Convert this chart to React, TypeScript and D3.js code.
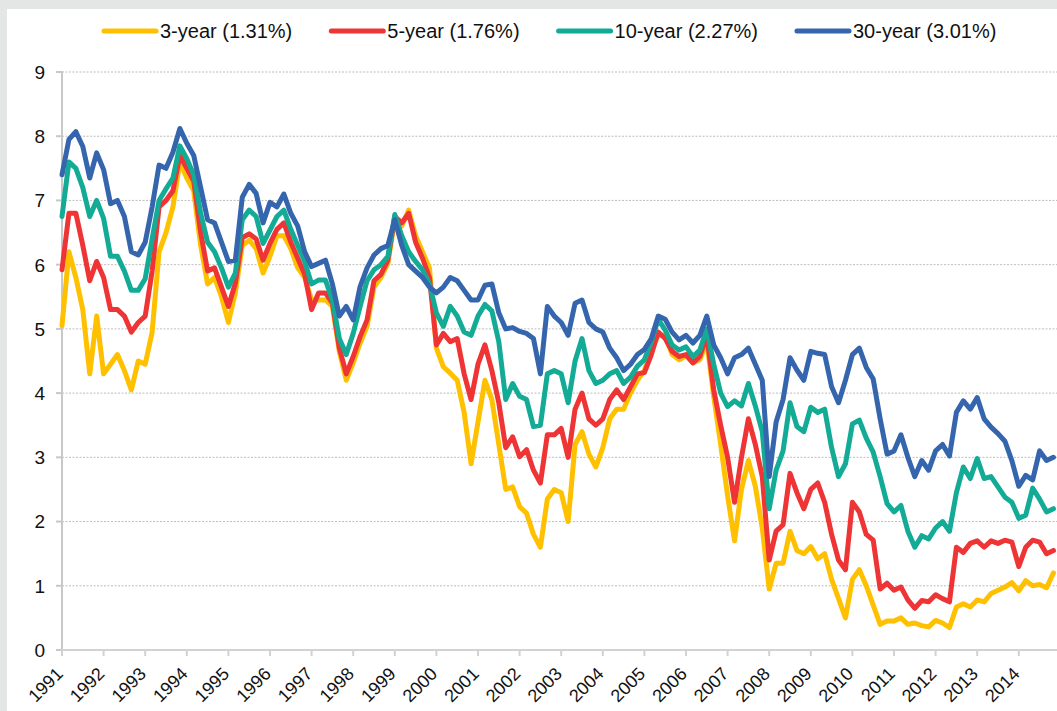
import React, { useEffect, useRef } from 'react';
import * as d3 from 'd3';

// two-month observation grid, Jan 1991 .. Nov 2014 (decimal years)
const startYear = 1991;
const stepsPerYear = 6;
const yearTicks = d3.range(1991, 2015);
const yTicks = [0, 1, 2, 3, 4, 5, 6, 7, 8, 9];

const seriesNames = ['3-year (1.31%)', '5-year (1.76%)', '10-year (2.27%)', '30-year (3.01%)'];
const seriesColors = ['#ffc000', '#ee3435', '#13aa96', '#3465ad'];

// yields, %
const y3 = [
	5.05, 6.2, 5.8, 5.3, 4.3, 5.2, 4.3, 4.45, 4.6, 4.35, 4.05, 4.5,
	4.45, 4.95, 6.2, 6.5, 6.9, 7.6, 7.35, 7.15, 6.3, 5.7, 5.8, 5.5,
	5.1, 5.56, 6.3, 6.38, 6.25, 5.87, 6.13, 6.45, 6.45, 6.25, 5.95, 5.8,
	5.45, 5.45, 5.45, 5.35, 4.65, 4.2, 4.47, 4.78, 5.04, 5.65, 5.8, 6.02,
	6.7, 6.6, 6.85, 6.45, 6.2, 5.95, 4.7, 4.41, 4.31, 4.2, 3.7, 2.9,
	3.55, 4.2, 3.9, 3.2, 2.5, 2.54, 2.23, 2.13, 1.8, 1.6, 2.35, 2.5,
	2.45, 2.0, 3.2, 3.4, 3.05, 2.85, 3.15, 3.6, 3.75, 3.75, 4.0, 4.2,
	4.35, 4.68, 4.9, 4.9, 4.6, 4.52, 4.58, 4.47, 4.52, 4.8, 3.95, 3.2,
	2.4, 1.7, 2.5, 2.95, 2.55, 1.9, 0.95, 1.35, 1.35, 1.85, 1.55, 1.5,
	1.61, 1.42, 1.5, 1.1, 0.8, 0.5, 1.1, 1.25, 1.0, 0.7, 0.4, 0.45,
	0.45, 0.5, 0.4, 0.42, 0.38, 0.36, 0.46, 0.42, 0.35, 0.67, 0.72, 0.67,
	0.78, 0.75, 0.88, 0.93, 0.98, 1.05, 0.92, 1.08, 1.0, 1.02, 0.97, 1.2
];
const y5 = [
	5.92, 6.8, 6.8, 6.3, 5.75, 6.05, 5.8, 5.3, 5.3, 5.2, 4.95, 5.1,
	5.2, 5.9, 6.9, 7.0, 7.15, 7.7, 7.5, 7.3, 6.5, 5.9, 5.95, 5.65,
	5.35, 5.71, 6.42, 6.48, 6.4, 6.07, 6.33, 6.55, 6.65, 6.35, 6.1, 5.85,
	5.3, 5.56, 5.56, 5.4, 4.7, 4.3, 4.57, 4.88, 5.14, 5.75, 5.85, 6.07,
	6.75, 6.65, 6.8, 6.35, 6.1, 5.8, 4.75, 4.93, 4.8, 4.85, 4.3, 3.9,
	4.45, 4.75, 4.35, 3.85, 3.15, 3.32, 3.01, 3.12, 2.8, 2.6, 3.35, 3.35,
	3.45, 3.0, 3.75, 4.0, 3.6, 3.5, 3.6, 3.9, 4.05, 3.9, 4.1, 4.3,
	4.32, 4.6, 4.95, 4.85, 4.65, 4.57, 4.6, 4.47, 4.57, 4.9, 4.05, 3.5,
	3.0, 2.3, 3.0, 3.6, 3.2, 2.7, 1.4, 1.85, 1.95, 2.75, 2.45, 2.2,
	2.5, 2.6, 2.3, 1.8, 1.4, 1.25, 2.3, 2.15, 1.8, 1.71, 0.95, 1.04,
	0.93, 0.98, 0.78, 0.65, 0.77, 0.75, 0.86, 0.8, 0.75, 1.6, 1.52, 1.66,
	1.7, 1.6, 1.7, 1.66, 1.71, 1.68, 1.3, 1.6, 1.71, 1.68, 1.5, 1.55
];
const y10 = [
	6.75, 7.6, 7.5, 7.2, 6.75, 7.0, 6.72, 6.13, 6.13, 5.9, 5.6, 5.6,
	5.78, 6.4, 7.0, 7.18, 7.35, 7.85, 7.65, 7.4, 6.8, 6.35, 6.2, 5.95,
	5.65, 5.87, 6.7, 6.85, 6.75, 6.33, 6.54, 6.75, 6.85, 6.55, 6.3, 6.05,
	5.7, 5.76, 5.76, 5.45, 4.85, 4.6, 4.93, 5.35, 5.75, 5.92, 6.0, 6.13,
	6.78, 6.45, 6.2, 6.05, 5.92, 5.7, 5.25, 5.04, 5.35, 5.2, 4.95, 4.9,
	5.2, 5.38, 5.28, 4.8, 3.9, 4.15, 3.95, 3.9, 3.48, 3.5, 4.3, 4.35,
	4.3, 3.85, 4.5, 4.85, 4.35, 4.15, 4.2, 4.3, 4.35, 4.15, 4.25, 4.42,
	4.52, 4.8, 5.15, 4.98, 4.75, 4.67, 4.72, 4.57, 4.67, 5.0, 4.45, 4.0,
	3.79, 3.88, 3.8, 4.15, 3.8, 3.4, 2.2, 2.8, 3.1, 3.85, 3.48, 3.4,
	3.78, 3.7, 3.75, 3.15, 2.7, 2.9, 3.52, 3.58, 3.3, 3.08, 2.7, 2.28,
	2.15, 2.25, 1.85, 1.6, 1.78, 1.73, 1.9, 2.0, 1.85, 2.45, 2.85, 2.67,
	2.98, 2.67, 2.7, 2.54, 2.38, 2.3, 2.05, 2.1, 2.52, 2.35, 2.15, 2.2
];
const y30 = [
	7.4, 7.95, 8.07, 7.84, 7.35, 7.74, 7.48, 6.95, 7.0, 6.75, 6.2, 6.15,
	6.35, 6.9, 7.55, 7.5, 7.75, 8.12, 7.89, 7.7, 7.2, 6.7, 6.65, 6.35,
	6.05, 6.07, 7.05, 7.25, 7.11, 6.65, 6.97, 6.9, 7.1, 6.8, 6.6, 6.2,
	5.97, 6.02, 6.07, 5.7, 5.2, 5.35, 5.14, 5.66, 5.95, 6.15, 6.25, 6.3,
	6.7, 6.3, 6.0, 5.9, 5.8, 5.65, 5.56, 5.65, 5.8, 5.75, 5.6, 5.45,
	5.45, 5.68, 5.7, 5.25, 5.0, 5.02, 4.96, 4.93, 4.85, 4.3, 5.35, 5.2,
	5.1, 4.9, 5.4, 5.45, 5.1, 5.0, 4.95, 4.7, 4.55, 4.35, 4.45, 4.6,
	4.68, 4.85, 5.2, 5.15, 4.95, 4.83, 4.9, 4.78, 4.9, 5.2, 4.75, 4.55,
	4.3, 4.55, 4.6, 4.7, 4.45, 4.2, 2.7, 3.55, 3.9, 4.55, 4.36, 4.2,
	4.65, 4.62, 4.6, 4.1, 3.85, 4.2, 4.6, 4.7, 4.4, 4.22, 3.6, 3.05,
	3.1, 3.35, 3.0, 2.7, 2.95, 2.8, 3.1, 3.2, 3.02, 3.7, 3.88, 3.75,
	3.93, 3.6, 3.47, 3.37, 3.25, 2.95, 2.55, 2.72, 2.65, 3.1, 2.95, 3.0
];
const seriesValues = [y3, y5, y10, y30];

const width = 1057;
const height = 711;
const margin = { left: 62, top: 72, bottom: 650 };

function App() {
	const ref = useRef(null);

	useEffect(() => {
		const svg = d3.select(ref.current);
		svg.selectAll('*').remove();

		const x = d3.scaleLinear().domain([1991, 2015]).range([margin.left, margin.left + 24 * 41.6]);
		const y = d3.scaleLinear().domain([0, 9]).range([margin.bottom, margin.top]);

		// page frame
		svg.append('rect').attr('width', width).attr('height', height).attr('fill', '#e4e5e5');
		svg.append('rect').attr('x', 7).attr('y', 9).attr('width', width - 7).attr('height', height - 9).attr('fill', '#fff');

		// gridlines
		svg
			.append('g')
			.selectAll('line')
			.data(yTicks.filter(d => d > 0))
			.join('line')
			.attr('x1', margin.left)
			.attr('x2', width)
			.attr('y1', d => y(d))
			.attr('y2', d => y(d))
			.attr('stroke', '#bdbdbd')
			.attr('stroke-width', 1)
			.attr('stroke-dasharray', '2,1.5');

		// y axis
		const yAxis = svg.append('g').attr('transform', `translate(${margin.left},0)`);
		yAxis
			.append('line')
			.attr('y1', margin.top - 1)
			.attr('y2', margin.bottom)
			.attr('stroke', '#c8c8c8')
			.attr('stroke-width', 2);
		yAxis
			.selectAll('.tk')
			.data(yTicks)
			.join('line')
			.attr('class', 'tk')
			.attr('x1', -6)
			.attr('x2', 0)
			.attr('y1', d => y(d))
			.attr('y2', d => y(d))
			.attr('stroke', '#c8c8c8')
			.attr('stroke-width', 2);
		yAxis
			.selectAll('text')
			.data(yTicks)
			.join('text')
			.attr('x', -17)
			.attr('y', d => y(d))
			.attr('dy', '0.36em')
			.attr('text-anchor', 'end')
			.attr('font-family', 'Arial, "Liberation Sans", sans-serif')
			.attr('font-size', 19)
			.attr('fill', '#111')
			.text(d => d);

		// x axis
		const xAxis = svg.append('g').attr('transform', `translate(0,${margin.bottom})`);
		xAxis
			.append('line')
			.attr('x1', margin.left - 1)
			.attr('x2', width)
			.attr('stroke', '#d2d2d2')
			.attr('stroke-width', 2);
		xAxis
			.selectAll('.tk')
			.data(yearTicks)
			.join('line')
			.attr('class', 'tk')
			.attr('x1', d => x(d))
			.attr('x2', d => x(d))
			.attr('y1', 0)
			.attr('y2', 6)
			.attr('stroke', '#d2d2d2')
			.attr('stroke-width', 2);
		xAxis
			.selectAll('text')
			.data(yearTicks)
			.join('text')
			.attr('transform', d => `translate(${x(d) + 2},25) rotate(-45)`)
			.attr('text-anchor', 'end')
			.attr('font-family', 'Arial, "Liberation Sans", sans-serif')
			.attr('font-size', 18)
			.attr('fill', '#111')
			.text(d => d);

		// series, yellow first so the 30-year ends up on top
		const line = d3
			.line()
			.x((d, i) => x(startYear + i / stepsPerYear))
			.y(d => y(d));

		svg
			.append('g')
			.selectAll('path')
			.data(seriesValues)
			.join('path')
			.attr('fill', 'none')
			.attr('stroke', (d, i) => seriesColors[i])
			.attr('stroke-width', 5)
			.attr('stroke-linejoin', 'round')
			.attr('stroke-linecap', 'round')
			.attr('d', d => line(d));

		// legend, laid out left to right from the measured labels
		const legend = svg.append('g').attr('transform', 'translate(0,31)');
		let cursor = 104;
		seriesNames.forEach((name, i) => {
			legend
				.append('line')
				.attr('x1', cursor)
				.attr('x2', cursor + 52)
				.attr('stroke', seriesColors[i])
				.attr('stroke-width', 5)
				.attr('stroke-linecap', 'round');
			const t = legend
				.append('text')
				.attr('x', cursor + 56)
				.attr('dy', '0.36em')
				.attr('font-family', 'Arial, "Liberation Sans", sans-serif')
				.attr('font-size', 20)
				.attr('fill', '#111')
				.text(name);
			cursor += 56 + t.node().getComputedTextLength() + 39;
		});
	}, []);

	return (
		<div style={{ position: 'absolute', left: 0, top: 0 }}>
			<svg ref={ref} width={width} height={height} style={{ display: 'block' }} />
		</div>
	);
}

export default App;
